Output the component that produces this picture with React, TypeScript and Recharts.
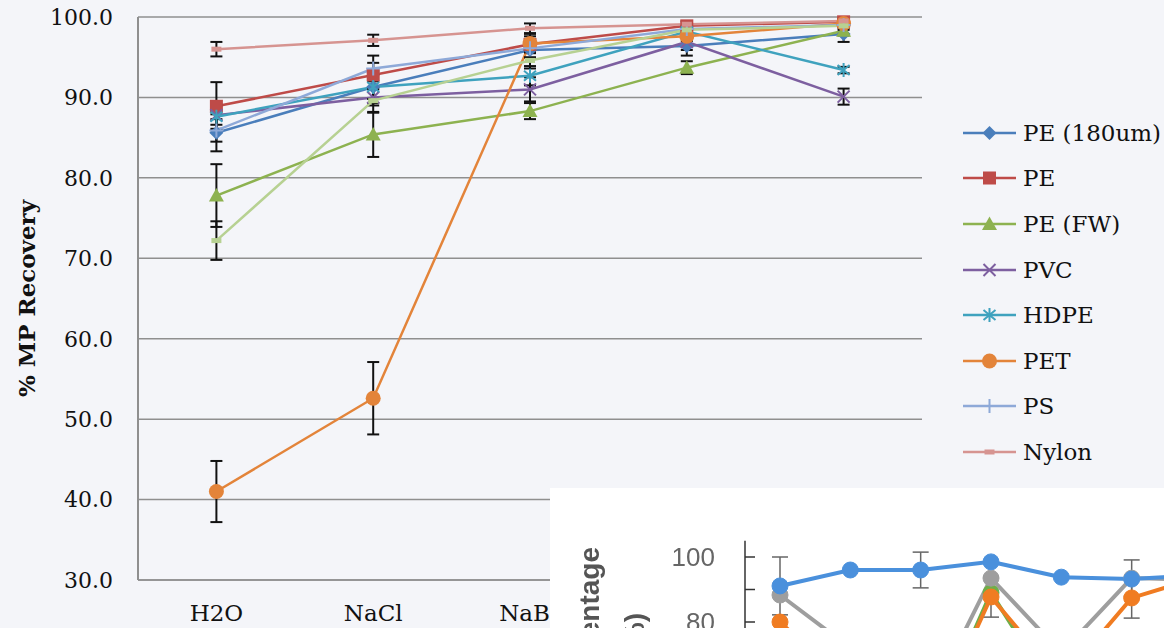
import React from 'react';
import { LineChart, Line, XAxis, YAxis, CartesianGrid, ErrorBar, Legend } from 'recharts';

// main chart: recovery per flotation medium
const media = ['H2O', 'NaCl', 'NaBr', 'NaI', 'ZnCl2'];
const yTicks = [30, 40, 50, 60, 70, 80, 90, 100];

const pe180 = [85.6, 91.3, 95.9, 96.4, 97.9];
const pe180Err = [2.3, 2.0, 1.0, 1.2, 1.0];
const pe = [88.9, 92.8, 96.6, 98.9, 99.4];
const peErr = [3.0, 1.5, 1.0, 0.5, 0.4];
const peFw = [77.8, 85.4, 88.3, 93.7, 98.3];
const peFwErr = [3.9, 2.8, 1.0, 0.8, 0.6];
const pvc = [87.8, 90.0, 91.0, 96.9, 90.1];
const pvcErr = [1.2, 1.0, 1.5, 1.0, 1.0];
const hdpe = [87.6, 91.3, 92.7, 98.2, 93.4];
const hdpeErr = [1.5, 1.5, 1.2, 0.6, 0.4];
const pet = [41.0, 52.6, 96.7, 97.6, 99.2];
const petErr = [3.8, 4.5, 1.2, 0.6, 0.4];
const ps = [85.9, 93.6, 96.1, 98.5, 99.0];
const psErr = [1.4, 1.6, 1.1, 0.5, 0.4];
const nylon = [96.0, 97.1, 98.6, 99.1, 99.5];
const nylonErr = [0.9, 0.7, 0.6, 0.4, 0.3];
const extra = [72.2, 89.6, 94.6, 98.4, 98.9];
const extraErr = [2.4, 1.5, 1.0, 0.5, 0.5];

const series = [
  { key: 'pe180', name: 'PE (180um)', color: '#4A7EBB', shape: 'diamond', values: pe180, errors: pe180Err },
  { key: 'pe', name: 'PE', color: '#BE4B48', shape: 'square', values: pe, errors: peErr },
  { key: 'peFw', name: 'PE (FW)', color: '#8DB250', shape: 'triangle', values: peFw, errors: peFwErr },
  { key: 'pvc', name: 'PVC', color: '#7D5FA0', shape: 'x', values: pvc, errors: pvcErr },
  { key: 'hdpe', name: 'HDPE', color: '#3FA2BE', shape: 'star', values: hdpe, errors: hdpeErr },
  { key: 'pet', name: 'PET', color: '#E3843A', shape: 'circle', values: pet, errors: petErr },
  { key: 'ps', name: 'PS', color: '#8EA9D8', shape: 'plus', values: ps, errors: psErr },
  { key: 'nylon', name: 'Nylon', color: '#D69491', shape: 'dash', values: nylon, errors: nylonErr },
  { key: 'extra', name: '', color: '#B7D192', shape: 'dash', values: extra, errors: extraErr },
];

// pasted inset (other figure) in the bottom right corner
const insetCats = ['a', 'b', 'c', 'd', 'e', 'f', 'g'];
const insetTicks = [0, 10, 20, 30, 40, 50, 60, 70, 80, 90, 100];
const insetBlue = [91.1, 96.0, 96.0, 98.5, 93.8, 93.2, 94.5];
const insetBlueErr = [8.9, 0, 5.5, 0, 0, 0, 0];
const insetGrey = [88.3, 72, 50, 93.5, 70.5, 93.5, 93];
const insetGreyErr = [0, 0, 0, 0, 0, 5.6, 0];
const insetOrange = [80, 60, 40, 87.7, 62, 87.4, 94];
const insetOrangeErr = [0, 0, 0, 6.2, 0, 6.2, 0];
const insetGreen = [50, 45, 40, 89, 55, 60, 62];

const insetSeries = [
  { key: 'green', color: '#6FAE48', values: insetGreen, errors: null },
  { key: 'orange', color: '#F07C22', values: insetOrange, errors: insetOrangeErr },
  { key: 'grey', color: '#9E9E9E', values: insetGrey, errors: insetGreyErr },
  { key: 'blue', color: '#4A90DC', values: insetBlue, errors: insetBlueErr },
];

const serif = "'DejaVu Serif', serif";

const data = media.map((m, i) => {
  const row: any = { medium: m };
  series.forEach((s) => {
    row[s.key] = s.values[i];
    row[s.key + 'Err'] = s.errors[i];
  });
  return row;
});

const insetData = insetCats.map((c, i) => {
  const row: any = { c };
  insetSeries.forEach((s) => {
    row[s.key] = s.values[i];
    if (s.errors) row[s.key + 'Err'] = s.errors[i];
  });
  return row;
});

function Marker({ shape, cx, cy, color }: { shape: string; cx: number; cy: number; color: string }) {
  switch (shape) {
    case 'diamond':
      return <polygon points={`${cx},${cy - 7} ${cx + 7},${cy} ${cx},${cy + 7} ${cx - 7},${cy}`} fill={color} />;
    case 'square':
      return <rect x={cx - 6.5} y={cy - 6.5} width={13} height={13} fill={color} />;
    case 'triangle':
      return <polygon points={`${cx},${cy - 7.5} ${cx + 7.5},${cy + 6} ${cx - 7.5},${cy + 6}`} fill={color} />;
    case 'x':
      return <path d={`M${cx - 6},${cy - 6}L${cx + 6},${cy + 6}M${cx - 6},${cy + 6}L${cx + 6},${cy - 6}`} stroke={color} strokeWidth={2} />;
    case 'star':
      return (
        <path
          d={`M${cx},${cy - 7}L${cx},${cy + 7}M${cx - 6},${cy - 5}L${cx + 6},${cy + 5}M${cx - 6},${cy + 5}L${cx + 6},${cy - 5}`}
          stroke={color}
          strokeWidth={2}
        />
      );
    case 'circle':
      return <circle cx={cx} cy={cy} r={7.5} fill={color} />;
    case 'plus':
      return <path d={`M${cx},${cy - 7}L${cx},${cy + 7}M${cx - 7},${cy}L${cx + 7},${cy}`} stroke={color} strokeWidth={2} />;
    default:
      return <rect x={cx - 5} y={cy - 2.5} width={10} height={5} fill={color} />;
  }
}

function LegendContent() {
  return (
    <div>
      {series
        .filter((s) => s.name)
        .map((s) => (
          <div key={s.key} style={{ height: 45.6, display: 'flex', alignItems: 'center' }}>
            <svg width={56} height={24}>
              <line x1={1} x2={54} y1={12} y2={12} stroke={s.color} strokeWidth={2.5} />
              <Marker shape={s.shape} cx={27.5} cy={12} color={s.color} />
            </svg>
            <span style={{ marginLeft: 5, fontFamily: serif, fontSize: 23, color: '#111', whiteSpace: 'nowrap' }}>{s.name}</span>
          </div>
        ))}
    </div>
  );
}

function InsetTick({ x, y, payload }: any) {
  return (
    <g>
      <line x1={x} x2={x + 10} y1={y} y2={y} stroke="#333" strokeWidth={1.5} />
      {payload.value % 20 === 0 && (
        <text x={x - 30} y={y} dy={9} textAnchor="end" fontSize={26} fill="#666" fontFamily="'Liberation Sans', sans-serif">
          {payload.value}
        </text>
      )}
    </g>
  );
}

export default function App() {
  return (
    <div style={{ position: 'fixed', left: 0, top: 0, width: 1164, height: 628, background: '#F4F5F9', overflow: 'hidden' }}>
      <LineChart width={1164} height={628} data={data} margin={{ top: 17, right: 242, bottom: 0, left: 0 }}>
        <CartesianGrid vertical={false} stroke="#8f8f8f" strokeWidth={1.5} />
        <XAxis
          dataKey="medium"
          interval={0}
          height={48}
          padding={{ left: 78.4, right: 78.4 }}
          axisLine={{ stroke: '#8f8f8f', strokeWidth: 1.5 }}
          tickLine={false}
          tickSize={0}
          tickMargin={25}
          tick={{ fontSize: 23, fill: '#111', fontFamily: serif }}
        />
        <YAxis
          domain={[30, 100]}
          ticks={yTicks}
          width={138}
          tickFormatter={(v: number) => v.toFixed(1)}
          axisLine={{ stroke: '#8f8f8f', strokeWidth: 2 }}
          tickLine={false}
          tickSize={0}
          tickMargin={25}
          tick={{ fontSize: 22, fill: '#111', fontFamily: serif }}
          label={{
            value: '% MP Recovery',
            angle: -90,
            position: 'insideLeft',
            offset: 27,
            style: { textAnchor: 'middle', fontFamily: serif, fontWeight: 700, fontSize: 23, fill: '#111' },
          }}
        />
        {series.map((s) => (
          <Line
            key={s.key}
            dataKey={s.key}
            name={s.name}
            stroke={s.color}
            strokeWidth={2.5}
            isAnimationActive={false}
            dot={(p: any) => <Marker key={`${s.key}-${p.index}`} shape={s.shape} cx={p.cx} cy={p.cy} color={s.color} />}
            activeDot={false}
          >
            <ErrorBar dataKey={s.key + 'Err'} width={6} strokeWidth={2} stroke="#111" />
          </Line>
        ))}
        <Legend
          layout="vertical"
          align="center"
          verticalAlign="middle"
          content={<LegendContent />}
          wrapperStyle={{ left: 962, top: 110, width: 202 }}
        />
      </LineChart>

      <div
        style={{
          position: 'absolute',
          left: 550,
          top: 488,
          width: 614,
          height: 140,
          overflow: 'hidden',
          background: '#fff',
        }}
      >
        <div style={{ position: 'absolute', left: 0, top: 0, filter: 'blur(0.7px)' }}>
          <svg width={614} height={140} style={{ position: 'absolute', left: 0, top: 0 }}>
            <text
              x={49}
              y={59}
              transform="rotate(-90, 49, 59)"
              textAnchor="end"
              fontSize={28}
              fontWeight={700}
              fill="#555"
              fontFamily="'Liberation Sans', sans-serif"
            >
              Recovery percentage
            </text>
            <text
              x={94}
              y={125}
              transform="rotate(-90, 94, 125)"
              textAnchor="end"
              fontSize={28}
              fontWeight={700}
              fill="#555"
              fontFamily="'Liberation Sans', sans-serif"
            >
              (%)
            </text>
          </svg>
          <LineChart
            width={687}
            height={394}
            data={insetData}
            margin={{ top: 52.75, right: 0, bottom: 0, left: 0 }}
            style={{ position: 'absolute', left: 0, top: 0 }}
          >
            <XAxis dataKey="c" hide padding={{ left: 35, right: 35 }} />
            <YAxis
              domain={[0, 105]}
              ticks={insetTicks}
              width={195}
              axisLine={{ stroke: '#333', strokeWidth: 1.5 }}
              tickLine={false}
              tickSize={0}
              tickMargin={0}
              tick={<InsetTick />}
            />
            {insetSeries.map((s) => (
              <Line
                key={s.key}
                dataKey={s.key}
                stroke={s.color}
                strokeWidth={4}
                isAnimationActive={false}
                dot={{ r: 8, fill: s.color, stroke: s.color, strokeWidth: 1 }}
                activeDot={false}
              >
                {s.errors && <ErrorBar dataKey={s.key + 'Err'} width={8} strokeWidth={1.5} stroke="#666" />}
              </Line>
            ))}
          </LineChart>
        </div>
      </div>
    </div>
  );
}
